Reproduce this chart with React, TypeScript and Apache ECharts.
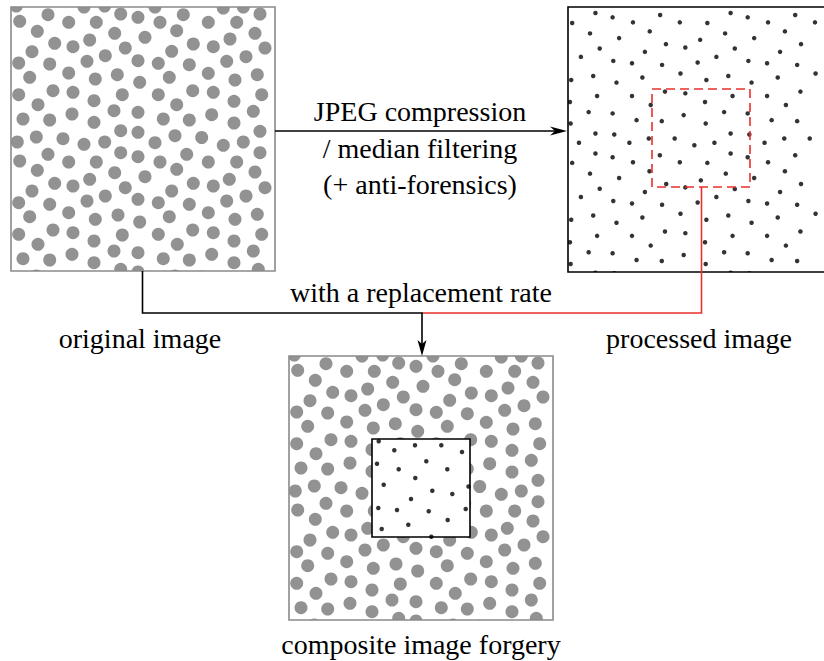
import React, { useEffect, useRef } from "react";
import * as echarts from "echarts";

// dot centres in image-box pixel units (0..264, y downward)
const originalDots: number[][] = [
  [5.3, -1], [73, 0], [93.7, -1], [144, 0], [212.3, 1], [232.3, 0],
  [8.7, 14.3], [37, 7.7], [57.7, 15.3], [85.3, 15.3], [109.7, 7], [127, 10.3],
  [149, 15.3], [172.3, 7.7], [197.3, 15.3], [225.7, 15.3], [249, 7],
  [26.3, 24.3], [103.7, 26.3], [165.7, 23.7], [244, 26.3],
  [43.7, 36.3], [62, 39.7], [78.7, 33], [114.3, 41], [134, 30.3], [182.3, 37], [202.3, 39.7], [219, 32], [254, 41],
  [21, 44.7], [94.3, 48.7], [160.7, 44.3], [235, 49.7],
  [7.7, 56], [38.7, 57], [76, 54.3], [127, 53.7], [147.3, 56.3], [178.3, 57.7], [215.7, 54.3],
  [57.7, 66], [106.3, 67.7], [197.3, 66.3], [246.3, 67.7],
  [18.7, 70.3], [84.3, 72], [158.3, 70.3], [224, 73], [128.7, 75.3],
  [42, 83.7], [62, 85.3], [111.3, 87.7], [7.7, 87.7], [147.3, 87.7], [181.7, 83.7], [202.3, 85.3], [250.7, 87.7],
  [83, 93.7], [27, 97.7], [165.7, 97.7], [223, 94.3],
  [103, 103.7], [127, 105.3], [242.3, 104.3], [61, 107], [200.7, 107.7],
  [12, 112], [38.7, 113], [83, 115.3], [152.3, 112], [178.3, 113], [223, 116],
  [109.7, 123.7], [127, 125.3], [249, 124.3],
  [25.3, 130], [52, 131.7], [164, 128.7], [190.7, 130.5],
  [6.3, 135], [73, 137.3], [93.7, 135], [144, 135.7], [212.3, 138.3], [232.3, 135],
  [8.7, 154], [37, 147.3], [57.7, 155], [85.3, 155], [109.7, 145.7], [127, 149.7],
  [149, 155], [175.7, 147.3], [197.3, 155], [225.7, 155], [249, 145.7],
  [26.3, 163.3], [103.7, 165.7], [165.7, 162.3], [244, 165],
  [43.7, 176.3], [62, 179], [78.7, 172.3], [114.3, 180.7], [134, 169.7], [182.3, 176.3], [202.3, 179], [218.3, 172.3], [254, 180.7],
  [21, 184], [94.3, 189], [160.7, 184], [235, 189],
  [7.7, 195.7], [38.7, 197.3], [76, 194], [127, 192.3], [147.3, 195.7], [178.3, 197.3], [215.7, 194],
  [57.7, 205.7], [107, 208], [197.3, 205.7], [246.3, 207.3],
  [18.7, 209.7], [84.3, 212.3], [158.3, 209.7], [224, 212.3], [128.7, 215],
  [42, 223], [62, 225.7], [111.3, 228], [7.7, 227.3], [147.3, 227.3], [181.7, 223], [202.3, 225.7], [250.7, 227.3],
  [83, 234], [27, 237.3], [166.3, 237.3], [223, 234],
  [103, 244], [127, 245.7], [242.3, 244], [61, 247.3], [200.7, 247.3],
  [12, 251.7], [38.7, 253], [83, 255.7], [152.3, 251.7], [178.3, 253], [223, 255.7],
  [109.7, 262.3], [127, 265], [247.3, 262.3],
  [25.3, 269], [52, 271], [164, 269], [190.7, 270],
];

const processedDots: number[][] = [
  [28.3, 6], [46, 10.3], [67, 15.3], [95, 8], [115.3, 15.3], [4.3, 16], [22.7, 26.3], [52.7, 31], [84.3, 24.3],
  [32.7, 41.3], [101, 37], [121, 40.3], [13.3, 49.7], [46.7, 53.7], [66, 56], [79.3, 44.7], [97, 57.7],
  [3.3, 72.7], [26, 68.7], [50, 75.3], [76.7, 70.3], [116, 66.3], [30, 88.7], [66, 88.7], [100, 84.3], [121, 86],
  [2, 94.7], [85.3, 97.7], [21.3, 104.7], [46, 106], [70.7, 112.7], [96.7, 113.7], [119.3, 107.7], [2.7, 116],
  [28.3, 126], [47.7, 127], [11.3, 135.3], [63.3, 135.3], [83.3, 131], [110, 131], [28.3, 146], [46, 149.7],
  [67, 154.7], [94.7, 147.7], [115.3, 154.7], [4.3, 155.3], [22.7, 166], [52.7, 170.3], [84, 163.7], [32.7, 181],
  [79.3, 184.3], [101.3, 176.3], [121, 179.7], [13.3, 189.3], [46.7, 193.3], [66, 195.7], [97, 197], [3.3, 212],
  [26, 207.7], [50, 215], [76.7, 209.7], [116, 206], [30, 228], [66, 228], [100, 223.7], [121, 225.3], [2, 234.3],
  [85.3, 237.7], [21.3, 244.3], [46, 245.3], [70.7, 252], [96.7, 253], [119.3, 247], [2.7, 256], [28.3, 264.7], [47.7, 265.3],
  [167.7, 6], [185.3, 10.3], [206.3, 15.3], [234.3, 8], [254.7, 15.3], [143.7, 16], [162, 26.3], [192, 31], [223.7, 24.3],
  [136.3, 32.7], [172, 41.3], [218.7, 44.7], [240.3, 37], [133.7, 55.3], [153, 49.7], [186, 53.7], [205.3, 56], [236.3, 57.7],
  [142.7, 72.7], [165.3, 68.7], [189.3, 75.3], [216.3, 70.3], [255.3, 66.3], [169.7, 88.7], [205.3, 88.7], [239.7, 84.3],
  [141.3, 94.7], [224.7, 97.7], [161, 104.7], [185.3, 106], [210, 112.7], [236.3, 113.7], [142, 116], [167.7, 126], [187, 127],
  [130.3, 137.7], [151, 135.3], [202.7, 135.3], [223, 131], [249.3, 131], [167.7, 146], [185.3, 149.7], [206.3, 154.7],
  [234.3, 147.7], [143.7, 155.3], [162.7, 166], [192, 170.3], [223.7, 163.7], [137, 172.7], [172, 181.3], [218.7, 184.3],
  [240.3, 176.3], [133.7, 194.7], [153, 189.3], [186, 193.3], [205.3, 195.7], [236.3, 197], [142.7, 212], [165.3, 207.7],
  [189.3, 215], [216.3, 209.7], [255.3, 206], [169.7, 228], [205.3, 228], [239.7, 223.7], [141.3, 234.3], [224.7, 237.7],
  [161, 244.3], [185.3, 245.3], [210, 252], [236.3, 253], [142, 256], [167.7, 264.7], [187, 265.3],
];

// dots of the replaced block inside the composite (0..98)
const insetDots: number[][] = [
  [6.7, 2.3], [22.3, 11.3], [43, 6.3], [5, 24.7], [26.7, 30.3], [43.3, 39], [11.7, 45.7],
  [69.3, 6.3], [90, 13], [54.3, 22.3], [75.3, 30.3], [96.5, 47.5], [39, 60], [6.3, 69], [25, 71],
  [9.7, 90], [36.3, 85.7], [60.3, 51.7], [80.3, 55], [56.7, 72.3], [75.7, 81], [93.7, 70], [59.3, 97.7],
];

const captionLines = ["JPEG compression", "/ median filtering", "(+ anti-forensics)"];
const labels = {
  rate: "with a replacement rate",
  original: "original image",
  processed: "processed image",
  composite: "composite image forgery",
};

function txt(text: string, x: number, y: number) {
  return {
    type: "text",
    x,
    y,
    z: 100,
    silent: true,
    style: {
      text,
      fontSize: 28,
      fontFamily: "Liberation Serif",
      fill: "#000",
      align: "center",
      verticalAlign: "middle",
      textAlign: "center",
      textVerticalAlign: "middle",
    },
  };
}

// white strips that trim dots overflowing a box, then the box outline on top
function frame(x: number, y: number, w: number, h: number, stroke: string) {
  const m = 16;
  const mask = (sx: number, sy: number, sw: number, sh: number) => ({
    type: "rect", z: 20, silent: true,
    shape: { x: sx, y: sy, width: sw, height: sh },
    style: { fill: "#fff", stroke: null },
  });
  return [
    mask(x - m, y - m, w + 2 * m, m),
    mask(x - m, y + h, w + 2 * m, m),
    mask(x - m, y, m, h),
    mask(x + w, y, m, h),
    {
      type: "rect", z: 25, silent: true,
      shape: { x, y, width: w, height: h },
      style: { fill: "none", stroke, lineWidth: 1.6 },
    },
  ];
}

export default function App() {
  const ref = useRef<HTMLDivElement>(null);
  useEffect(() => {
    if (!ref.current) return;
    const chart = echarts.init(ref.current, undefined, { renderer: "svg" });
    const grids = [
      { left: 11, top: 7, width: 264, height: 264 },
      { left: 568, top: 7, width: 264, height: 265 },
      { left: 289, top: 356, width: 264, height: 264 },
      { left: 372, top: 439, width: 98, height: 98 },
    ];
    const ranges = [264, 264, 264, 98];
    const option: any = {
      animation: false,
      grid: grids.map((g) => ({ left: g.left, top: g.top, width: g.width, height: g.height, show: false })),
      xAxis: ranges.map((r, i) => ({ type: "value", gridIndex: i, min: 0, max: r, show: false })),
      yAxis: ranges.map((r, i) => ({ type: "value", gridIndex: i, min: 0, max: r, show: false, inverse: true })),
      series: [
        { type: "scatter", xAxisIndex: 0, yAxisIndex: 0, data: originalDots, symbolSize: 13, itemStyle: { color: "#777" }, silent: true, clip: false },
        { type: "scatter", xAxisIndex: 1, yAxisIndex: 1, data: processedDots, symbolSize: 4.5, itemStyle: { color: "#000" }, silent: true, clip: false },
        { type: "scatter", xAxisIndex: 2, yAxisIndex: 2, data: originalDots, symbolSize: 13, itemStyle: { color: "#777" }, silent: true, clip: false },
        { type: "scatter", xAxisIndex: 3, yAxisIndex: 3, data: insetDots, symbolSize: 4.5, itemStyle: { color: "#000" }, silent: true, clip: false, z: 40 },
      ],
      graphic: [
        ...frame(11, 7, 264, 264, "#8a8a8a"),
        ...frame(568, 7, 264, 265, "#000"),
        ...frame(289, 356, 264, 264, "#8a8a8a"),
        // white block covering the replaced area of the composite
        { type: "rect", z: 30, silent: true, shape: { x: 372, y: 439, width: 98, height: 98 }, style: { fill: "#fff", stroke: null } },
        { type: "rect", z: 50, silent: true, shape: { x: 372, y: 439, width: 98, height: 98 }, style: { fill: "none", stroke: "#000", lineWidth: 1.6 } },
        // red dashed selection
        { type: "rect", z: 50, silent: true, shape: { x: 652, y: 89, width: 98, height: 98 }, style: { fill: "none", stroke: "#e8302c", lineWidth: 1.6, lineDash: [9, 5] } },
        // red connector
        { type: "polyline", z: 45, silent: true, shape: { points: [[701.5, 187], [701.5, 313], [422, 313]] }, style: { stroke: "#e8302c", lineWidth: 1.6, fill: "none" } },
        // black connectors
        { type: "line", z: 46, silent: true, shape: { x1: 275, y1: 131, x2: 556, y2: 131 }, style: { stroke: "#000", lineWidth: 1.6 } },
        { type: "polygon", z: 46, silent: true, shape: { points: [[567, 131], [550, 126.5], [555, 131], [550, 135.5]] }, style: { fill: "#000" } },
        { type: "polyline", z: 46, silent: true, shape: { points: [[142.5, 271], [142.5, 313], [422, 313], [422, 346]] }, style: { stroke: "#000", lineWidth: 1.6, fill: "none" } },
        { type: "polygon", z: 46, silent: true, shape: { points: [[422, 356], [417.5, 340], [422, 344], [426.5, 340]] }, style: { fill: "#000" } },
        txt(captionLines[0], 420, 111),
        txt(captionLines[1], 420, 148),
        txt(captionLines[2], 420, 184),
        txt(labels.rate, 421, 292),
        txt(labels.original, 140, 338),
        txt(labels.processed, 699, 338),
        txt(labels.composite, 421, 644),
      ],
    };
    chart.setOption(option);
    return () => chart.dispose();
  }, []);
  return (
    <div
      ref={ref}
      style={{ position: "absolute", left: 0, top: 0, width: 824, height: 661, background: "#fff" }}
    />
  );
}
